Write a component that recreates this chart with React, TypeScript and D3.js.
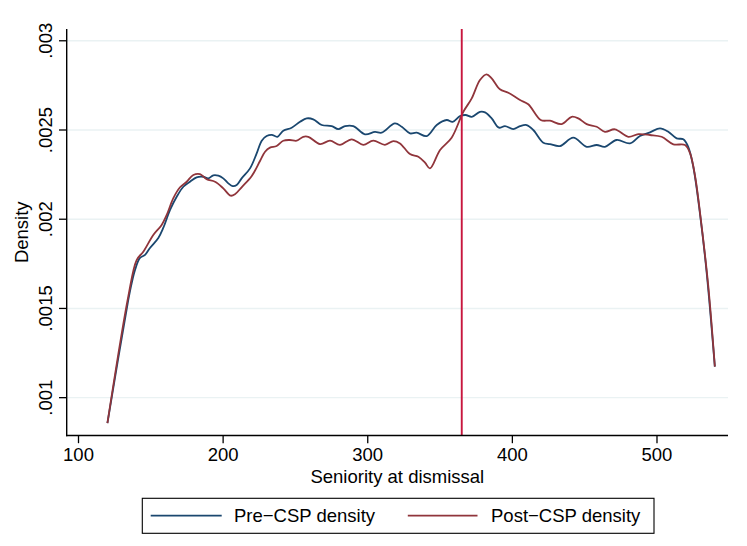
import React from "react";
import * as d3 from "d3";

const xTicks = [100, 200, 300, 400, 500];
const yTicks = [0.001, 0.0015, 0.002, 0.0025, 0.003];
const yTickLabels = [".001", ".0015", ".002", ".0025", ".003"];
const cutoff = 365;

const preCsp: [number, number][] = [
  [120, 0.000857], [134.4, 0.001547], [136.8, 0.001643], [139.1, 0.001716], [142.5, 0.001783],
  [146, 0.0018], [149.4, 0.001839], [155.2, 0.001895], [158.6, 0.001951], [163.3, 0.002052],
  [167.9, 0.002126], [172.5, 0.002182], [177.1, 0.00221], [181.7, 0.002235], [186.3, 0.002238],
  [189.7, 0.002229], [193.2, 0.002246], [196.7, 0.002244], [200.1, 0.002229], [203.6, 0.002201],
  [206.6, 0.002186], [209.4, 0.002192], [212.8, 0.002229], [218.6, 0.002285], [223.2, 0.002369],
  [226.7, 0.00244], [230.1, 0.002466], [233.6, 0.002473], [237.5, 0.002462], [241.6, 0.002496],
  [247.4, 0.002513], [253.2, 0.002546], [257.8, 0.002565], [262.3, 0.00256], [268.2, 0.002528],
  [275.1, 0.002522], [279.6, 0.002505], [284.3, 0.002522], [290, 0.002522], [298.1, 0.002476],
  [305, 0.002489], [309.6, 0.002485], [318.8, 0.002537], [323.5, 0.002518], [329.2, 0.002481],
  [333.8, 0.002485], [340.8, 0.002466], [347.7, 0.002528], [354.6, 0.002556], [358.7, 0.002546],
  [363.8, 0.002578], [367.7, 0.002584], [371.9, 0.002574], [377.6, 0.002602], [381.1, 0.002599],
  [385.7, 0.002565], [390.7, 0.002513], [394.9, 0.002522], [400.6, 0.002505], [405.3, 0.002522],
  [409.9, 0.002528], [414.5, 0.0025], [421.4, 0.002429], [426, 0.002421], [432.9, 0.00241],
  [442.1, 0.002457], [451.4, 0.002406], [458.3, 0.002416], [464, 0.002406], [472.1, 0.002444],
  [481.3, 0.002425], [488.2, 0.002466], [495.2, 0.002487], [502.1, 0.002509], [507.8, 0.00249],
  [513.6, 0.002453], [518.2, 0.002448], [521.6, 0.002406], [525.1, 0.002294], [529.7, 0.002033],
  [534.4, 0.001697], [540, 0.001174],
];

const postCsp: [number, number][] = [
  [120, 0.000857], [134.4, 0.001566], [140.2, 0.001771], [144.8, 0.001818], [151.7, 0.001912],
  [157.5, 0.001968], [161, 0.002024], [165.5, 0.002117], [170.2, 0.002179], [174.8, 0.00221],
  [179.4, 0.002248], [184, 0.002253], [188.6, 0.002224], [194.4, 0.00221], [200.1, 0.002173],
  [205.2, 0.002132], [208.2, 0.00214], [212.8, 0.002179], [219.8, 0.002242], [225.5, 0.002326],
  [229, 0.002378], [232.4, 0.002401], [237, 0.00241], [241.6, 0.00244], [246.2, 0.002444],
  [250.9, 0.00244], [255.4, 0.002462], [258.9, 0.002462], [267, 0.002421], [273.9, 0.00244],
  [280.8, 0.002417], [288.9, 0.002448], [296.9, 0.002417], [303.8, 0.00244], [311.9, 0.002417],
  [317.7, 0.002438], [322.3, 0.002425], [329.2, 0.002365], [335, 0.00235], [339.6, 0.002317],
  [343, 0.002285], [350, 0.002388], [358, 0.002457], [366.1, 0.002602], [371.9, 0.002677],
  [377.6, 0.00278], [382.2, 0.002812], [385.7, 0.002789], [391.4, 0.002728], [397.2, 0.002709],
  [405.3, 0.002668], [411, 0.002644], [419.6, 0.002556], [426, 0.002552], [434.1, 0.002533],
  [441, 0.002574], [445.6, 0.002565], [451.4, 0.002533], [458.3, 0.002518], [464, 0.00249],
  [470.9, 0.002504], [480.2, 0.002462], [487.1, 0.002477], [495.2, 0.002472], [503.2, 0.002462],
  [511.3, 0.00242], [519.4, 0.002416], [522.9, 0.002369], [526.4, 0.002238], [530.9, 0.001958],
  [535.5, 0.001622], [540, 0.001174],
];

const seriesNames = ["Pre\u2212CSP density", "Post\u2212CSP density"];
const seriesColors = ["#1a476f", "#90353b"];

const W = 747;
const H = 546;
const left = 66.7;
const right = 728;
const top = 29;
const bottom = 435.5;
const FONT = "'Liberation Sans', Arial, Helvetica, sans-serif";
const FS = 18.5;

export default function App() {
  const x = d3.scaleLinear().domain([91.84, 549.1]).range([left, right]);
  const y = d3.scaleLinear().domain([0.000788, 0.003066]).range([bottom, top]);
  const line = d3
    .line<[number, number]>()
    .x((d) => x(d[0]))
    .y((d) => y(d[1]))
    .curve(d3.curveCatmullRom.alpha(0.5));

  return (
    <svg
      width={W}
      height={H}
      style={{ position: "absolute", left: 0, top: 0, background: "#fff" }}
      fontFamily={FONT}
    >
      <rect x={0} y={0} width={W} height={H} fill="#fff" />
      {yTicks.map((t) => (
        <line key={"g" + t} x1={left} x2={right} y1={y(t)} y2={y(t)} stroke="#eaf2f3" strokeWidth={1.4} />
      ))}
      <path d={line(preCsp) || ""} fill="none" stroke={seriesColors[0]} strokeWidth={1.8} strokeLinejoin="round" />
      <path d={line(postCsp) || ""} fill="none" stroke={seriesColors[1]} strokeWidth={1.8} strokeLinejoin="round" />
      <line x1={x(cutoff)} x2={x(cutoff)} y1={top} y2={bottom} stroke="#c8163e" strokeWidth={1.9} />
      <line x1={left} x2={left} y1={top} y2={bottom + 0.7} stroke="#000" strokeWidth={1.4} />
      <line x1={left - 0.7} x2={right} y1={bottom} y2={bottom} stroke="#000" strokeWidth={1.4} />
      {yTicks.map((t, i) => (
        <g key={"y" + t}>
          <line x1={left - 7.7} x2={left} y1={y(t)} y2={y(t)} stroke="#000" strokeWidth={1.3} />
          <text
            transform={`translate(51.5,${y(t)}) rotate(-90)`}
            textAnchor="middle"
            fontSize={FS}
            fill="#000"
          >
            {yTickLabels[i]}
          </text>
        </g>
      ))}
      {xTicks.map((t) => (
        <g key={"x" + t}>
          <line x1={x(t)} x2={x(t)} y1={bottom} y2={bottom + 7.7} stroke="#000" strokeWidth={1.3} />
          <text x={x(t)} y={461} textAnchor="middle" fontSize={FS} fill="#000">
            {t}
          </text>
        </g>
      ))}
      <text transform={`translate(28,${(top + bottom) / 2}) rotate(-90)`} textAnchor="middle" fontSize={FS} fill="#000">
        Density
      </text>
      <text x={(left + right) / 2} y={483} textAnchor="middle" fontSize={FS} fill="#000">
        Seniority at dismissal
      </text>
      <rect x={142.3} y={498.3} width={511.7} height={35} fill="#fff" stroke="#000" strokeWidth={1.1} />
      <line x1={150.7} x2={221.7} y1={515.7} y2={515.7} stroke={seriesColors[0]} strokeWidth={1.8} />
      <text x={234} y={522.3} fontSize={FS} fill="#000">
        {seriesNames[0]}
      </text>
      <line x1={407.8} x2={477.5} y1={515.7} y2={515.7} stroke={seriesColors[1]} strokeWidth={1.8} />
      <text x={491} y={522.3} fontSize={FS} fill="#000">
        {seriesNames[1]}
      </text>
    </svg>
  );
}
